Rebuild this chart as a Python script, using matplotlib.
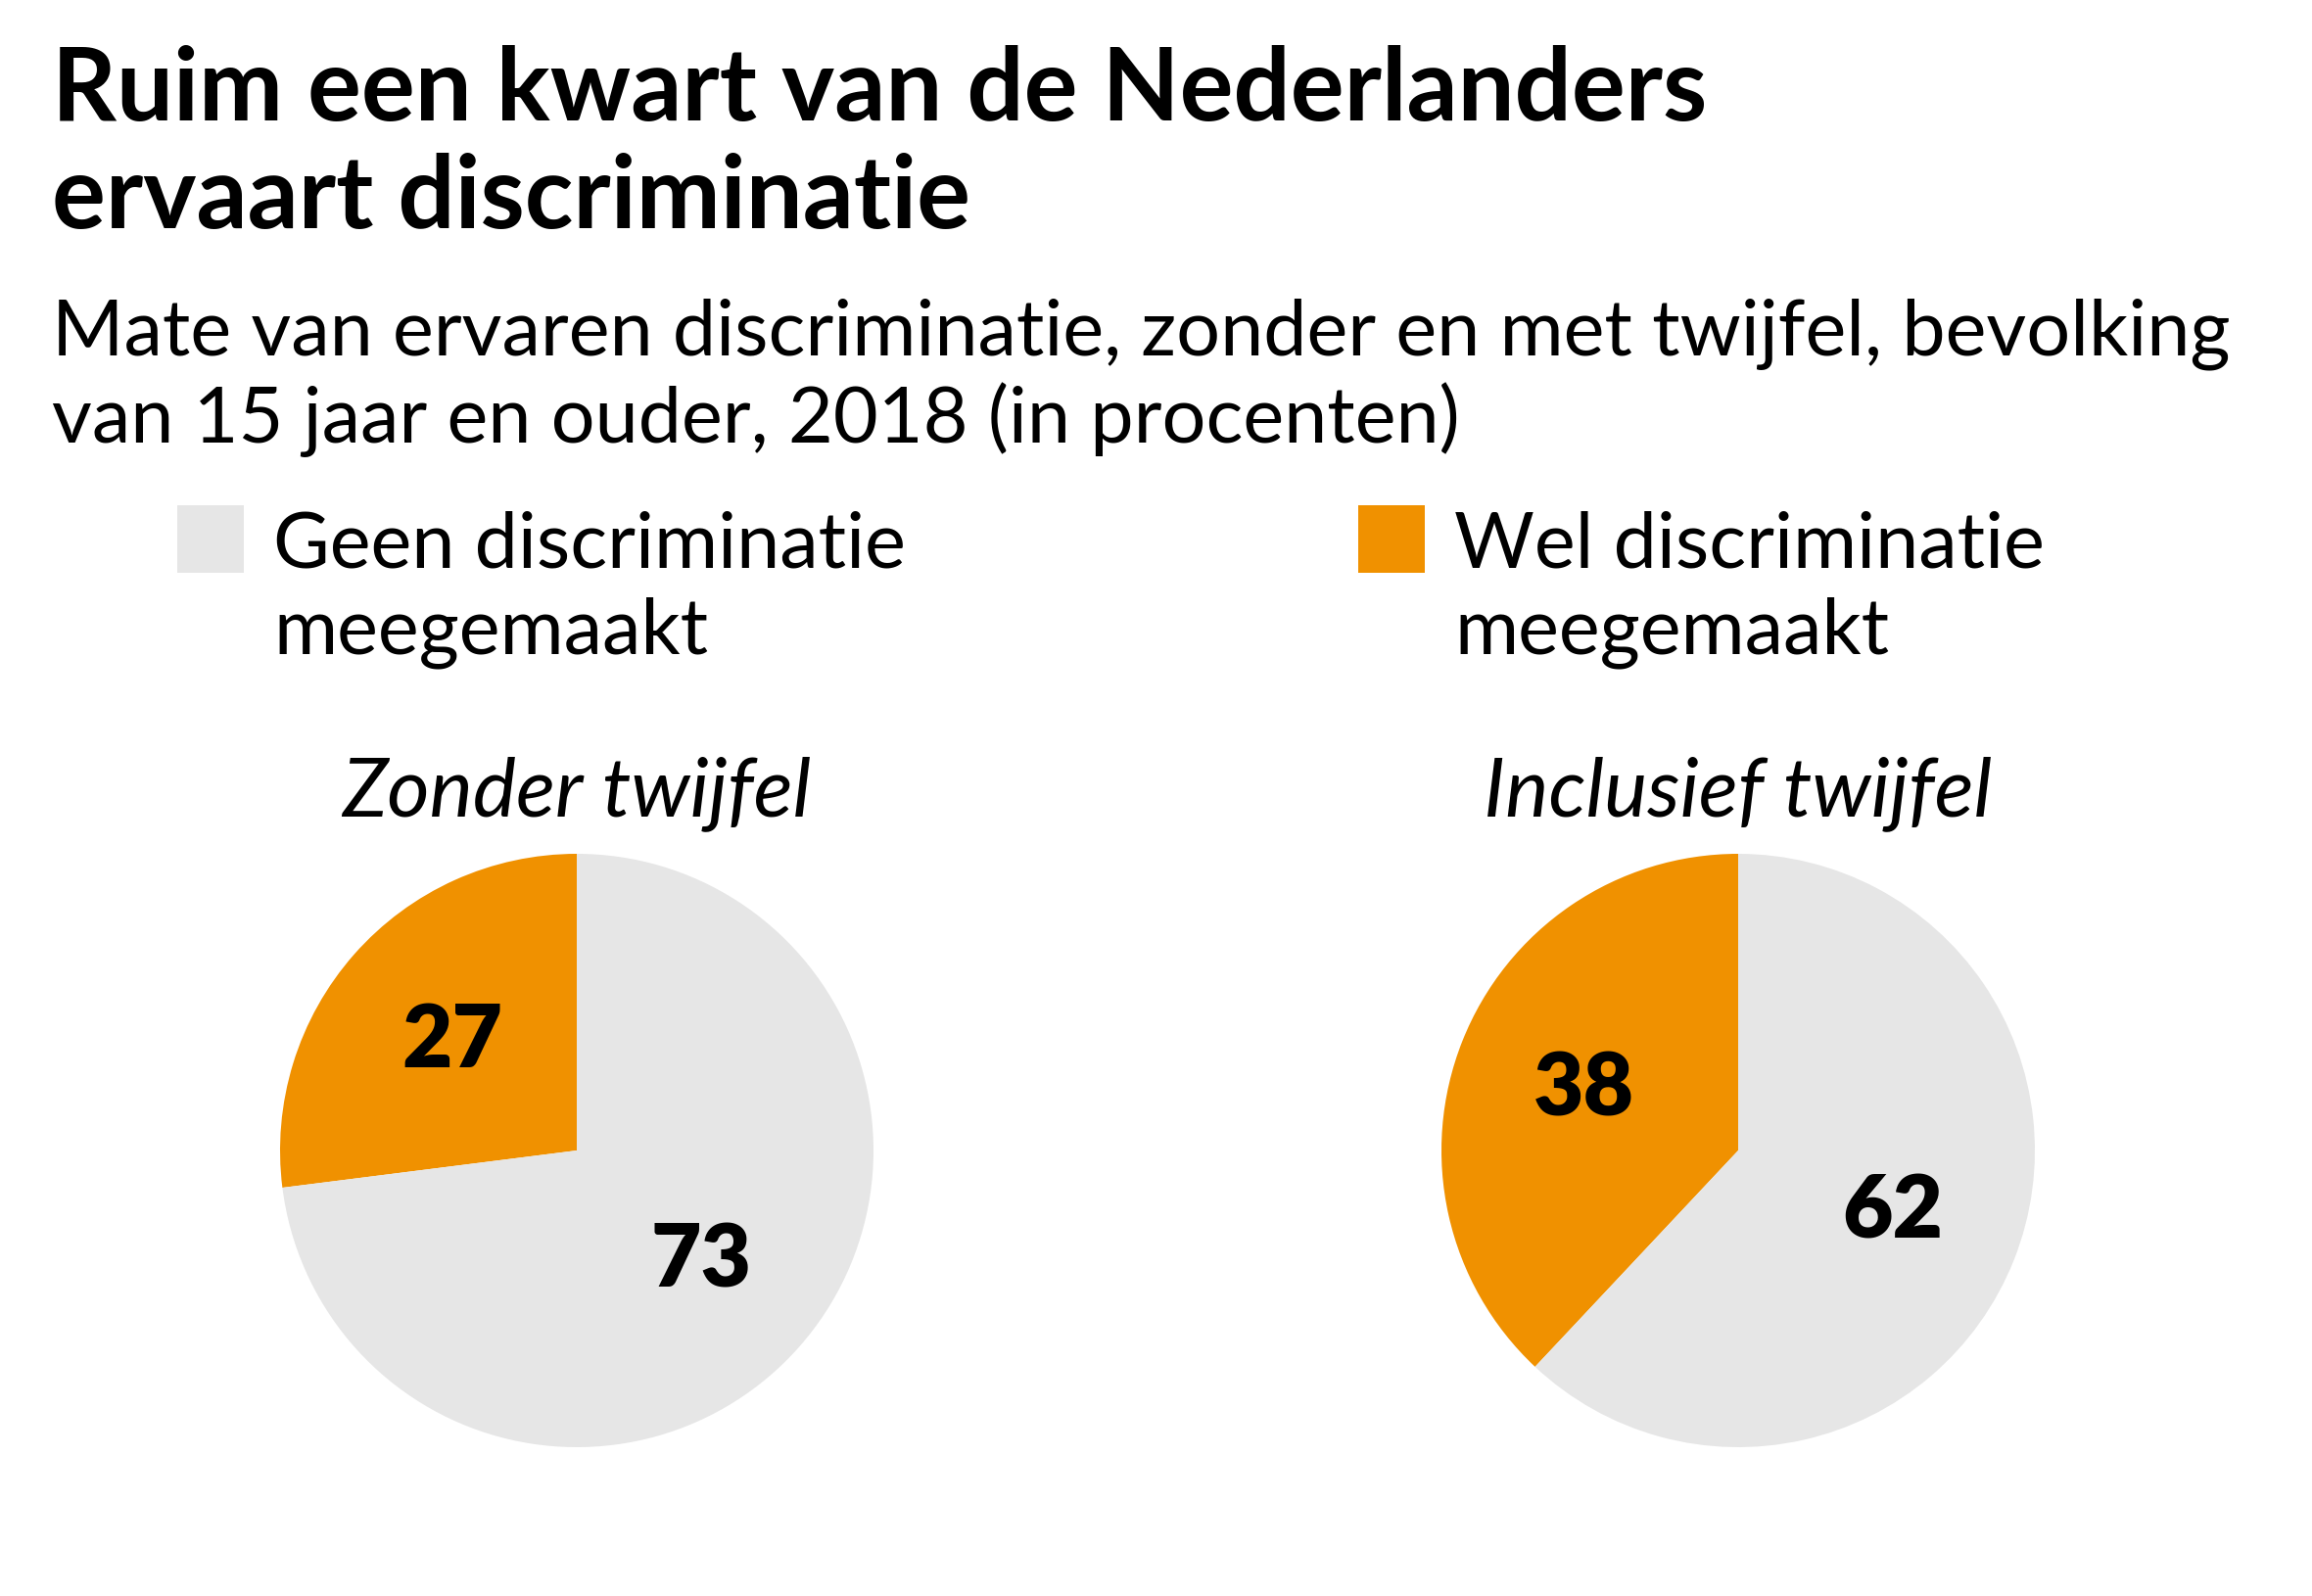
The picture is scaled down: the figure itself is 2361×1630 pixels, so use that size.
import matplotlib
matplotlib.use("Agg")
import matplotlib.pyplot as plt

# ---- data ----
categories = ["Geen discriminatie\nmeegemaakt", "Wel discriminatie\nmeegemaakt"]
panel_titles = ["Zonder twijfel", "Inclusief twijfel"]
geen = [73, 62]
wel = [27, 38]
colors = {"geen": "#E6E6E6", "wel": "#F09100"}

title = "Ruim een kwart van de Nederlanders\nervaart discriminatie"
subtitle = ("Mate van ervaren discriminatie, zonder en met twijfel, bevolking\n"
            "van 15 jaar en ouder, 2018 (in procenten)")

W, H = 2361, 1631
DPI = 200
fig = plt.figure(figsize=(W / DPI, H / DPI), dpi=DPI)
fig.patch.set_facecolor("white")

FONT = "Lato"

def fx(x):
    return x / W

def fy(y):
    return 1 - y / H

# title
t_lines = title.split("\n")
fig.text(fx(53), fy(123), t_lines[0], fontsize=37,
         fontweight="bold", family=FONT, va="baseline", ha="left")
fig.text(fx(53), fy(233), t_lines[1], fontsize=37,
         fontweight="bold", family=FONT, va="baseline", ha="left")
# subtitle
sub_lines = subtitle.split("\n")
fig.text(fx(53), fy(362), sub_lines[0], fontsize=28.5, fontweight="normal",
         family=FONT, va="baseline", ha="left")
fig.text(fx(53), fy(452), sub_lines[1], fontsize=28.5, fontweight="normal",
         family=FONT, va="baseline", ha="left")

# legend
leg_items = [(181, categories[0], colors["geen"]), (1387, categories[1], colors["wel"])]
for x0, lab, col in leg_items:
    fig.patches.append(plt.Rectangle((fx(x0), fy(586)), 68 / W, 69 / H,
                                     transform=fig.transFigure, facecolor=col,
                                     edgecolor="none"))
    l1, l2 = lab.split("\n")
    fig.text(fx(x0 + 98), fy(580), l1, fontsize=28.5, fontweight="normal",
             family=FONT, va="baseline", ha="left")
    fig.text(fx(x0 + 98), fy(667), l2, fontsize=28.5, fontweight="normal",
             family=FONT, va="baseline", ha="left")

# pies
centers = [(589, 1176), (1775, 1176)]
R = 303
for i, (cx, cy) in enumerate(centers):
    ax = fig.add_axes([fx(cx - R), fy(cy + R), 2 * R / W, 2 * R / H])
    vals = [wel[i], geen[i]]
    wedges, texts = ax.pie(vals, colors=[colors["wel"], colors["geen"]],
                           startangle=90, counterclock=True,
                           labels=[str(v) for v in vals], labeldistance=0.56,
                           wedgeprops=dict(linewidth=0),
                           textprops=dict(fontsize=32, fontweight="heavy",
                                          family=FONT, ha="center", va="center"))
    ax.set_xlim(-1, 1)
    ax.set_ylim(-1, 1)
    ax.set_aspect("equal")
    ax.axis("off")
    fig.text(fx(cx), fy(833), panel_titles[i], fontsize=30, style="italic",
             family=FONT, va="baseline", ha="center")

fig.savefig("out.png", dpi=DPI, facecolor="white")
